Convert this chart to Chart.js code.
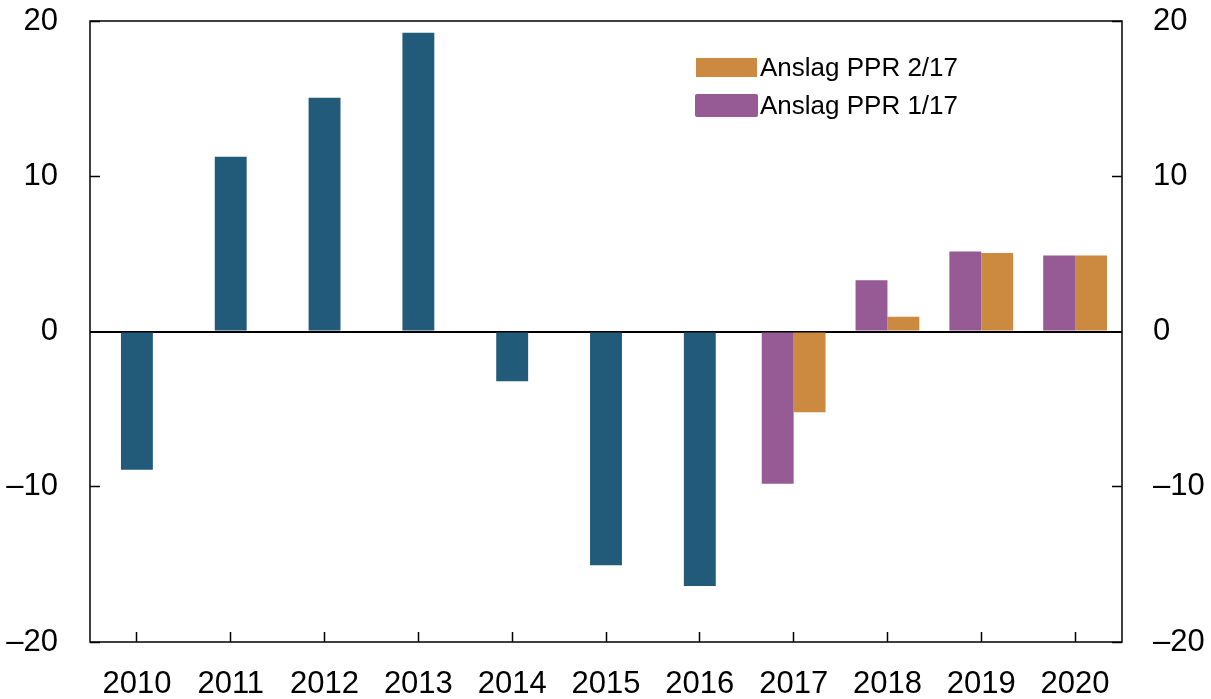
<!DOCTYPE html>
<html>
<head>
<meta charset="utf-8">
<script src="https://cdn.jsdelivr.net/npm/chart.js@4/dist/chart.umd.min.js"></script>
<style>
html,body{margin:0;padding:0;background:#fff;}
#wrap{position:relative;width:1211px;height:699px;}
canvas{position:absolute;left:0;top:0;}
.leg{position:absolute;font-family:"Liberation Sans",Arial,sans-serif;font-size:26px;color:#000;white-space:nowrap;line-height:26px;}
.sw{position:absolute;}
</style>
</head>
<body>
<div id="wrap">
<canvas id="c" width="1211" height="699"></canvas>
<div class="sw" style="left:696px;top:58px;width:61px;height:19px;background:#CC8A40;"></div>
<div class="leg" style="left:760px;top:54px;">Anslag PPR 2/17</div>
<div class="sw" style="left:695px;top:94px;width:63px;height:23px;background:#965A94;border-radius:2px;"></div>
<div class="leg" style="left:760px;top:92px;">Anslag PPR 1/17</div>
</div>
<script>
const categories = ['2010','2011','2012','2013','2014','2015','2016','2017','2018','2019','2020'];
const historical = [-8.9, 11.25, 15.05, 19.25, -3.2, -15.05, -16.4, null, null, null, null];
const pprOne = [null, null, null, null, null, null, null, -9.8, 3.3, 5.15, 4.9];
const pprTwo = [null, null, null, null, null, null, null, -5.2, 0.95, 5.05, 4.9];
const yTicks = [-20, -10, 0, 10, 20];

const FONT = {family: '"Liberation Sans", Arial, sans-serif', size: 31};
const fmt = v => (v < 0 ? '\u2013' + Math.abs(v) : String(v));

const framePlugin = {
  id: 'frame',
  afterDraw(chart) {
    const {ctx, chartArea: a} = chart;
    ctx.save();
    ctx.strokeStyle = '#000';
    ctx.lineWidth = 1.5;
    ctx.strokeRect(a.left, a.top, a.right - a.left, a.bottom - a.top);
    ctx.restore();
  }
};

const yAxis = (pos, w, pad) => ({
  type: 'linear', position: pos, min: -20, max: 20,
  afterBuildTicks: s => { s.ticks = yTicks.map(v => ({value: v})); },
  afterFit: s => { s.width = w; s.paddingTop = 0; s.paddingBottom = 0; },
  border: {display: false},
  grid: {
    drawOnChartArea: pos === 'left',
    color: c => (c.tick && c.tick.value === 0 ? '#000' : 'rgba(0,0,0,0)'),
    lineWidth: c => (c.tick && c.tick.value === 0 ? 2 : 1),
    tickColor: '#000', tickLength: -10, tickWidth: 1.5
  },
  ticks: {font: FONT, color: '#000', padding: pad, callback: v => fmt(v)}
});

new Chart(document.getElementById('c'), {
  type: 'bar',
  data: {
    labels: categories,
    datasets: [
      {label: 'Historisk', data: historical, backgroundColor: '#225A7A', grouped: false, categoryPercentage: 1, barPercentage: 0.34, yAxisID: 'y'},
      {label: 'Anslag PPR 1/17', data: pprOne, backgroundColor: '#965A94', categoryPercentage: 0.68, barPercentage: 1, yAxisID: 'y'},
      {label: 'Anslag PPR 2/17', data: pprTwo, backgroundColor: '#CC8A40', categoryPercentage: 0.68, barPercentage: 1, yAxisID: 'y'}
    ]
  },
  options: {
    responsive: false, animation: false,
    layout: {padding: {top: 21, left: 0, right: 0, bottom: 0}},
    plugins: {legend: {display: false}, tooltip: {enabled: false}},
    scales: {
      x: {
        afterFit: s => { s.height = 57; s.paddingLeft = 0; s.paddingRight = 0; },
        border: {display: false},
        grid: {offset: false, drawOnChartArea: false, color: '#000', tickLength: -10, tickWidth: 1.5},
        ticks: {font: FONT, color: '#000', padding: 34, maxRotation: 0, autoSkip: false}
      },
      y: yAxis('left', 90, 42),
      y2: yAxis('right', 89, 41)
    }
  },
  plugins: [framePlugin]
});
</script>
</body>
</html>
